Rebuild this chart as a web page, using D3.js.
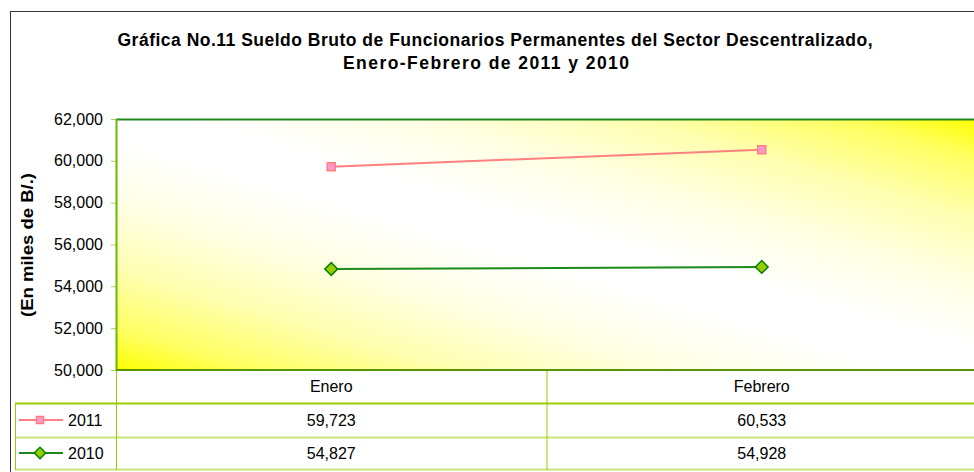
<!DOCTYPE html>
<html>
<head>
    <script src="https://d3js.org/d3.v7.min.js"></script>
    <style>
        body { margin: 0; background: #fff; }
        text { font-family: "Liberation Sans", Arial, sans-serif; fill: #000; }
    </style>
</head>
<body>
<div id="grafik"></div>

<script>
    // datos
    var categories = ["Enero", "Febrero"];
    var seriesNames = ["2011", "2010"];
    var values2011 = [59723, 60533];
    var values2010 = [54827, 54928];
    var yTicks = [50000, 52000, 54000, 56000, 58000, 60000, 62000];
    var titleLines = [
        "Gráfica No.11 Sueldo Bruto de Funcionarios Permanentes del Sector Descentralizado,",
        "Enero-Febrero de 2011 y 2010"
    ];
    var yTitle = "(En miles de B/.)";

    var width = 974, height = 472;
    var plot = { left: 116, top: 119, right: 977, bottom: 370 };
    var rowH = [370, 403, 437, 469];

    var svg = d3.select("#grafik")
        .append("svg")
        .attr("width", width)
        .attr("height", height);

    // degradado del área de trazado (amarillo - blanco - amarillo en diagonal)
    var defs = svg.append("defs");
    var grad = defs.append("linearGradient")
        .attr("id", "fondo")
        .attr("x1", 0).attr("y1", 1)
        .attr("x2", 1).attr("y2", 0);
    var stops = [
        [0, "#ffff00"], [0.08, "#ffff60"], [0.2, "#ffffb0"], [0.33, "#ffffe4"], [0.46, "#ffffff"],
        [0.54, "#ffffff"], [0.67, "#ffffe4"], [0.8, "#ffffb0"], [0.92, "#ffff60"], [1, "#ffff00"]
    ];
    stops.forEach(function(s) {
        grad.append("stop").attr("offset", s[0]).attr("stop-color", s[1]);
    });

    // borde exterior
    svg.append("rect")
        .attr("x", 10.5).attr("y", 11.5)
        .attr("width", 1000).attr("height", 500)
        .attr("fill", "none")
        .attr("stroke", "#333")
        .attr("stroke-width", 1);

    // título
    var titleX = [495, 486];
    var titleLen = [755, 286];
    svg.selectAll(".titulo")
        .data(titleLines)
        .enter()
        .append("text")
        .attr("class", "titulo")
        .attr("x", function(d, i) { return titleX[i]; })
        .attr("y", function(d, i) { return 46 + i * 23; })
        .attr("text-anchor", "middle")
        .attr("font-size", "17.5px")
        .attr("font-weight", "bold")
        .attr("textLength", function(d, i) { return titleLen[i]; })
        .attr("lengthAdjust", "spacing")
        .text(function(d) { return d; });

    var xScale = d3.scaleBand()
        .domain(categories)
        .range([plot.left, plot.right]);

    var yScale = d3.scaleLinear()
        .domain([50000, 62000])
        .range([plot.bottom, plot.top]);

    // fondo
    svg.append("rect")
        .attr("x", plot.left).attr("y", plot.top)
        .attr("width", plot.right - plot.left)
        .attr("height", plot.bottom - plot.top)
        .attr("fill", "url(#fondo)");

    // eje Y
    var yAxis = d3.axisLeft(yScale)
        .tickValues(yTicks)
        .tickFormat(d3.format(","))
        .tickSize(5)
        .tickPadding(8);
    var gy = svg.append("g")
        .attr("transform", "translate(" + plot.left + ",0)")
        .call(yAxis);
    gy.select(".domain").remove();
    gy.selectAll(".tick line").attr("stroke", "#aad05a");
    gy.selectAll(".tick text")
        .attr("font-size", "16px")
        .attr("font-family", "Liberation Sans, Arial, sans-serif")
        .attr("fill", "#000");

    // bordes del área
    svg.append("line")
        .attr("x1", plot.left).attr("x2", plot.right)
        .attr("y1", plot.top + 0.5).attr("y2", plot.top + 0.5)
        .attr("stroke", "#208a20").attr("stroke-width", 2);
    svg.append("line")
        .attr("x1", plot.left + 0.5).attr("x2", plot.left + 0.5)
        .attr("y1", plot.top).attr("y2", plot.bottom)
        .attr("stroke", "#66bb00").attr("stroke-width", 2);

    // título Y
    svg.append("text")
        .attr("transform", "translate(33," + 245 + ") rotate(-90)")
        .attr("text-anchor", "middle")
        .attr("font-size", "16px")
        .attr("font-weight", "bold")
        .attr("textLength", 144)
        .attr("lengthAdjust", "spacingAndGlyphs")
        .text(yTitle);

    // tabla de datos
    var tableColor = "#99cc00";
    var tabla = svg.append("g");
    tabla.append("line")
        .attr("x1", 15).attr("x2", width).attr("y1", rowH[1] + 0.5).attr("y2", rowH[1] + 0.5)
        .attr("stroke", tableColor).attr("stroke-width", 2);
    tabla.append("line")
        .attr("x1", 15).attr("x2", width).attr("y1", rowH[2] + 0.5).attr("y2", rowH[2] + 0.5)
        .attr("stroke", "#c8e37a").attr("stroke-width", 2);
    tabla.append("line")
        .attr("x1", 15).attr("x2", width).attr("y1", rowH[3] + 0.5).attr("y2", rowH[3] + 0.5)
        .attr("stroke", "#c8e37a").attr("stroke-width", 2);
    tabla.append("line")
        .attr("x1", 15.5).attr("x2", 15.5).attr("y1", rowH[1]).attr("y2", rowH[3] + 1)
        .attr("stroke", tableColor).attr("stroke-width", 1);
    tabla.selectAll(".sep")
        .data(categories.concat(["fin"]))
        .enter()
        .append("line")
        .attr("class", "sep")
        .attr("x1", function(d, i) { return plot.left + i * xScale.bandwidth() + 0.5; })
        .attr("x2", function(d, i) { return plot.left + i * xScale.bandwidth() + 0.5; })
        .attr("y1", rowH[0]).attr("y2", rowH[3] + 1)
        .attr("stroke", tableColor).attr("stroke-width", 1);

    // eje X (línea inferior)
    svg.append("line")
        .attr("x1", plot.left).attr("x2", plot.right)
        .attr("y1", plot.bottom).attr("y2", plot.bottom)
        .attr("stroke", "#5a9400").attr("stroke-width", 2);

    // categorías
    tabla.selectAll(".cat")
        .data(categories)
        .enter()
        .append("text")
        .attr("class", "cat")
        .attr("x", function(d) { return xScale(d) + xScale.bandwidth() / 2; })
        .attr("y", 392)
        .attr("text-anchor", "middle")
        .attr("font-size", "16px")
        .text(function(d) { return d; });

    var series = [
        { name: seriesNames[0], values: values2011, line: "#ff8080", fill: "#ff99cc", stroke: "#ff8080", size: 64, rot: 0 },
        { name: seriesNames[1], values: values2010, line: "#1a8a1a", fill: "#99cc00", stroke: "#008000", size: 81, rot: 45 }
    ];
    var fmt = d3.format(",");

    series.forEach(function(s, si) {
        var yRow = (rowH[si + 1] + rowH[si + 2]) / 2;
        var pts = categories.map(function(c, i) {
            return [xScale(c) + xScale.bandwidth() / 2, yScale(s.values[i])];
        });

        svg.append("path")
            .datum(pts)
            .attr("d", d3.line())
            .attr("fill", "none")
            .attr("stroke", s.line)
            .attr("stroke-width", 2);

        svg.selectAll(".m" + si)
            .data(pts)
            .enter()
            .append("path")
            .attr("class", "m" + si)
            .attr("transform", function(d) { return "translate(" + d[0] + "," + d[1] + ") rotate(" + s.rot + ")"; })
            .attr("d", d3.symbol().type(d3.symbolSquare).size(s.size))
            .attr("fill", s.fill)
            .attr("stroke", s.stroke)
            .attr("stroke-width", 1.5);

        // leyenda en la tabla
        tabla.append("line")
            .attr("x1", 19).attr("x2", 63)
            .attr("y1", yRow).attr("y2", yRow)
            .attr("stroke", s.line).attr("stroke-width", 2);
        tabla.append("path")
            .attr("transform", "translate(40," + yRow + ") rotate(" + s.rot + ")")
            .attr("d", d3.symbol().type(d3.symbolSquare).size(s.size * 0.8))
            .attr("fill", s.fill)
            .attr("stroke", s.stroke)
            .attr("stroke-width", 1.5);
        tabla.append("text")
            .attr("x", 68).attr("y", yRow + 6)
            .attr("font-size", "16px")
            .text(s.name);

        tabla.selectAll(".v" + si)
            .data(s.values)
            .enter()
            .append("text")
            .attr("class", "v" + si)
            .attr("x", function(d, i) { return xScale(categories[i]) + xScale.bandwidth() / 2; })
            .attr("y", yRow + 6)
            .attr("text-anchor", "middle")
            .attr("font-size", "16px")
            .text(function(d) { return fmt(d); });
    });
</script>
</body>
</html>
